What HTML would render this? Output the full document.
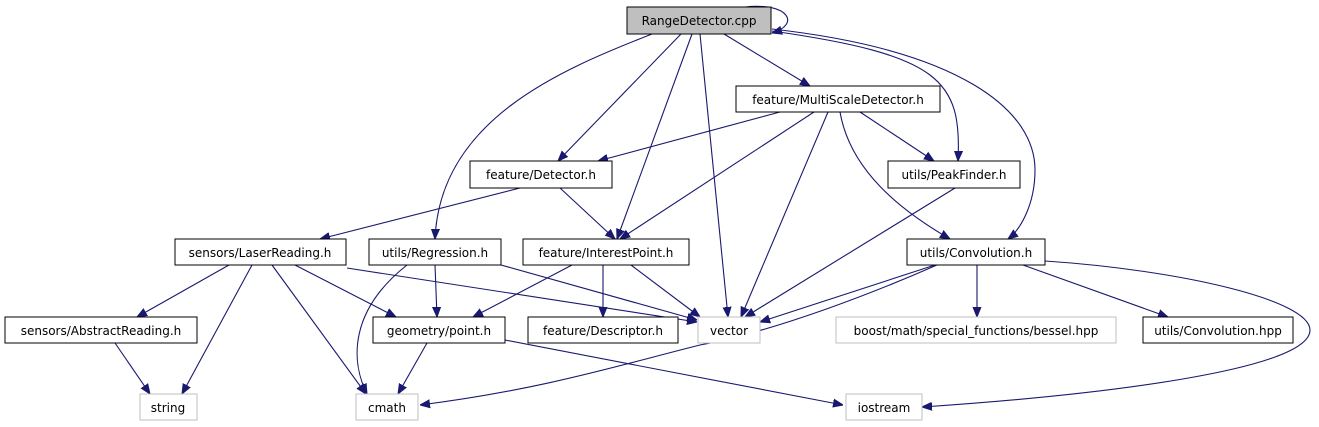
<!DOCTYPE html>
<html><head><meta charset="utf-8"><style>
html,body{margin:0;padding:0;background:#fff;}
svg{display:block;}
text{font-family:"DejaVu Sans","Liberation Sans",sans-serif;font-size:12px;fill:#000;text-anchor:middle;}
.e{fill:none;stroke:#191970;stroke-width:1.1;marker-end:url(#a);}
</style></head><body>
<svg width="1319" height="427" viewBox="0 0 1319 427" xmlns="http://www.w3.org/2000/svg">
<defs><marker id="a" viewBox="0 0 10 10" refX="10" refY="5" markerWidth="10" markerHeight="10" markerUnits="userSpaceOnUse" orient="auto"><path d="M0,1 L10,5 L0,9 z" fill="#191970" stroke="#191970"/></marker></defs>
<!-- edges -->
<path class="e" d="M745,7 C790,2 800,25 772,33"/>
<path class="e" d="M652,34 C560,70 440,120 435,239"/>
<path class="e" d="M681,34 L558,161"/>
<path class="e" d="M692,34 L617,239"/>
<path class="e" d="M700,34 L728,317"/>
<path class="e" d="M724,34 L810,86"/>
<path class="e" d="M772,31 C940,55 962,80 958,161"/>
<path class="e" d="M772,29 C960,50 1035,110 1035,170 C1035,205 1020,230 1008,239"/>
<path class="e" d="M780,112 L598,161"/>
<path class="e" d="M814,112 L620,239"/>
<path class="e" d="M828,112 L741,317"/>
<path class="e" d="M840,112 C850,170 900,210 950,239"/>
<path class="e" d="M860,112 L934,161"/>
<path class="e" d="M520,188 L320,239"/>
<path class="e" d="M560,188 L615,239"/>
<path class="e" d="M955,188 L745,317"/>
<path class="e" d="M229,265 L137,317"/>
<path class="e" d="M252,265 L182,394"/>
<path class="e" d="M272,265 L366,394"/>
<path class="e" d="M295,265 L396,317"/>
<path class="e" d="M347,268 L697,322"/>
<path class="e" d="M407,265 C350,310 350,360 367,394"/>
<path class="e" d="M435,265 L437,317"/>
<path class="e" d="M501,265 L697,320"/>
<path class="e" d="M572,265 L473,317"/>
<path class="e" d="M603,265 L603,317"/>
<path class="e" d="M631,265 L700,317"/>
<path class="e" d="M935,265 L760,322"/>
<path class="e" d="M937,265 C880,290 780,330 700,345 C620,365 540,390 420,405"/>
<path class="e" d="M977,265 L977,317"/>
<path class="e" d="M1023,265 L1168,317"/>
<path class="e" d="M1045,261 C1180,270 1310,300 1310,330 C1310,370 1100,395 922,407"/>
<path class="e" d="M115,343 L150,394"/>
<path class="e" d="M427,343 L398,394"/>
<path class="e" d="M505,340 L843,405"/>
<!-- nodes -->
<rect x="627" y="7" width="144" height="27" fill="#bfbfbf" stroke="#000"/><text x="699" y="25">RangeDetector.cpp</text>
<rect x="736" y="86" width="204" height="26" fill="#fff" stroke="#000"/><text x="838" y="104">feature/MultiScaleDetector.h</text>
<rect x="470" y="161" width="142" height="27" fill="#fff" stroke="#000"/><text x="541" y="179">feature/Detector.h</text>
<rect x="888" y="161" width="132" height="27" fill="#fff" stroke="#000"/><text x="954" y="179">utils/PeakFinder.h</text>
<rect x="175" y="239" width="171" height="26" fill="#fff" stroke="#000"/><text x="260" y="257">sensors/LaserReading.h</text>
<rect x="369" y="239" width="132" height="26" fill="#fff" stroke="#000"/><text x="435" y="257">utils/Regression.h</text>
<rect x="523" y="239" width="166" height="26" fill="#fff" stroke="#000"/><text x="606" y="257">feature/InterestPoint.h</text>
<rect x="907" y="239" width="138" height="26" fill="#fff" stroke="#000"/><text x="976" y="257">utils/Convolution.h</text>
<rect x="5" y="317" width="192" height="26" fill="#fff" stroke="#000"/><text x="101" y="335">sensors/AbstractReading.h</text>
<rect x="373" y="317" width="132" height="26" fill="#fff" stroke="#000"/><text x="439" y="335">geometry/point.h</text>
<rect x="528" y="317" width="150" height="26" fill="#fff" stroke="#000"/><text x="603" y="335">feature/Descriptor.h</text>
<rect x="698" y="317" width="62" height="26" fill="#fff" stroke="#bfbfbf"/><text x="729" y="335">vector</text>
<rect x="836" y="317" width="280" height="26" fill="#fff" stroke="#bfbfbf"/><text x="976" y="335">boost/math/special_functions/bessel.hpp</text>
<rect x="1143" y="317" width="150" height="26" fill="#fff" stroke="#000"/><text x="1218" y="335">utils/Convolution.hpp</text>
<rect x="140" y="394" width="57" height="26" fill="#fff" stroke="#bfbfbf"/><text x="168" y="412">string</text>
<rect x="356" y="394" width="62" height="26" fill="#fff" stroke="#bfbfbf"/><text x="387" y="412">cmath</text>
<rect x="846" y="394" width="76" height="26" fill="#fff" stroke="#bfbfbf"/><text x="884" y="412">iostream</text>
</svg>
</body></html>
